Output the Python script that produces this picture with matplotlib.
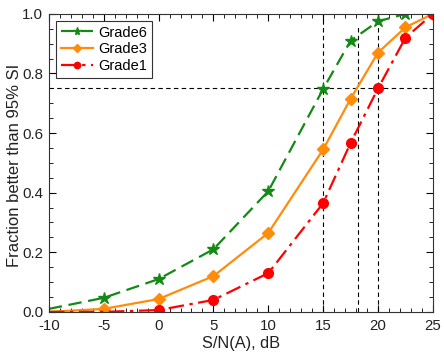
import matplotlib
matplotlib.use("Agg")
import matplotlib.pyplot as plt
from matplotlib.ticker import MultipleLocator

plt.rcParams['font.family'] = ['Liberation Sans', 'DejaVu Sans']
plt.rcParams['axes.unicode_minus'] = False

x = [-10, -5, 0, 5, 10, 15, 17.5, 20, 22.5, 25]
grade6 = [0.01, 0.047, 0.11, 0.21, 0.405, 0.748, 0.91, 0.975, 1.0, 1.0]
grade3 = [0.0, 0.01, 0.043, 0.12, 0.265, 0.545, 0.715, 0.87, 0.955, 1.0]
grade1 = [0.0, 0.0, 0.006, 0.04, 0.13, 0.365, 0.567, 0.75, 0.92, 1.0]

ref_y = 0.75
ref_x = [15, 18.2, 20]
ref_top = [1.0, 0.96, 1.0]

fig = plt.figure(figsize=(4.44, 3.56), dpi=100)
ax = fig.add_axes([0.110, 0.124, 0.865, 0.837])

ax.plot(x, grade6, color='#138a13', ls=(0, (6, 3)), lw=1.6, marker='*', ms=9,
        markevery=list(range(1, 9)), label='Grade6')
ax.plot(x, grade3, color='#ff8c0a', ls='-', lw=1.6, marker='D', ms=6,
        markevery=list(range(1, 10)), label='Grade3')
ax.plot(x, grade1, color='#ff0000', ls=(0, (7, 2.5, 1.5, 2.5)), lw=1.6, marker='o', ms=7,
        markevery=list(range(2, 10)), label='Grade1')

ax.axhline(ref_y, color='black', ls=(0, (4, 3)), lw=0.8, zorder=1)
for xv, top in zip(ref_x, ref_top):
    ax.plot([xv, xv], [0, top], color='black', ls=(0, (4, 3)), lw=0.8, zorder=1)

ax.set_xlim(-10, 25)
ax.set_ylim(0, 1.0)
ax.xaxis.set_major_locator(MultipleLocator(5))
ax.xaxis.set_minor_locator(MultipleLocator(1))
ax.yaxis.set_major_locator(MultipleLocator(0.2))
ax.yaxis.set_minor_locator(MultipleLocator(0.05))
ax.yaxis.set_major_formatter(plt.FuncFormatter(lambda v, p: f"{v:.1f}"))
ax.tick_params(which='both', direction='in', top=True, right=True, labelsize=10.8,
               labelcolor='#222222')
ax.tick_params(which='major', length=5)
ax.tick_params(which='minor', length=3)
ax.tick_params(axis='x', pad=5)
ax.tick_params(axis='y', pad=4)
for s in ax.spines.values():
    s.set_linewidth(0.8)
    s.set_color('#333333')

ax.set_xlabel('S/N(A), dB', fontsize=11.8, labelpad=2, color='#222222')
ax.set_ylabel('Fraction better than 95% SI', fontsize=12, color='#222222',
              va='center')
ax.yaxis.set_label_coords(-0.09, 0.49)

leg = ax.legend(loc='upper left', fontsize=10.5, fancybox=False, framealpha=1,
                edgecolor='#333333', borderpad=0.3, labelspacing=0.2,
                handlelength=2.2, handletextpad=0.4, borderaxespad=0.5,
                markerscale=0.65)
leg.get_frame().set_linewidth(0.8)

fig.savefig('out.png', dpi=100)
